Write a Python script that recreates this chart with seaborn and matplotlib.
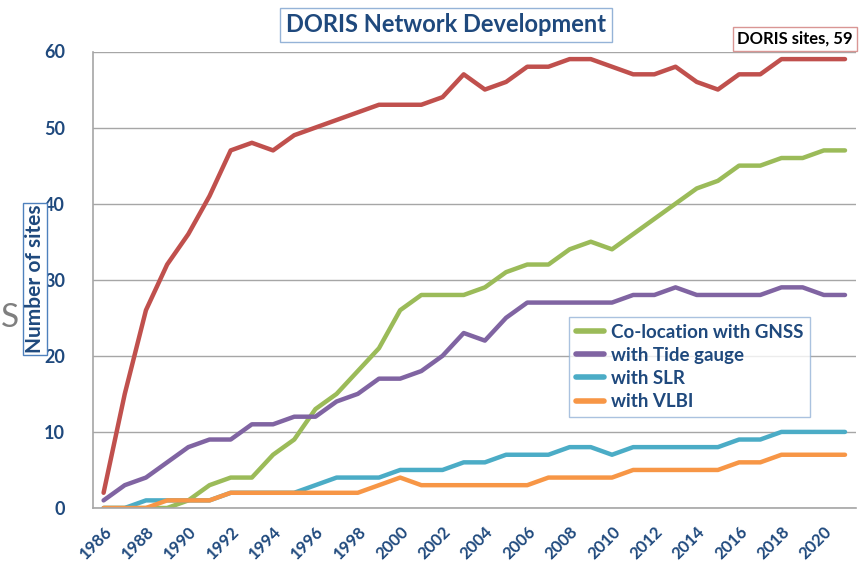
#!/usr/bin/env python3
"""
DORIS network development - number of sites per year
"""

import pandas as pd
import matplotlib
matplotlib.use("Agg")
import matplotlib.pyplot as plt
import seaborn as sns
from matplotlib.lines import Line2D

# ------------------------------------------------------------
# Data
# ------------------------------------------------------------
years = list(range(1986, 2022))

doris_sites = [2, 15, 26, 32, 36, 41, 47, 48, 47, 49,
               50, 51, 52, 53, 53, 53, 54, 57, 55, 56,
               58, 58, 59, 59, 58, 57, 57, 58, 56, 55,
               57, 57, 59, 59, 59, 59]
gnss = [0, 0, 0, 0, 1, 3, 4, 4, 7, 9,
        13, 15, 18, 21, 26, 28, 28, 28, 29, 31,
        32, 32, 34, 35, 34, 36, 38, 40, 42, 43,
        45, 45, 46, 46, 47, 47]
tide_gauge = [1, 3, 4, 6, 8, 9, 9, 11, 11, 12,
              12, 14, 15, 17, 17, 18, 20, 23, 22, 25,
              27, 27, 27, 27, 27, 28, 28, 29, 28, 28,
              28, 28, 29, 29, 28, 28]
slr = [0, 0, 1, 1, 1, 1, 2, 2, 2, 2,
       3, 4, 4, 4, 5, 5, 5, 6, 6, 7,
       7, 7, 8, 8, 7, 8, 8, 8, 8, 8,
       9, 9, 10, 10, 10, 10]
vlbi = [0, 0, 0, 1, 1, 1, 2, 2, 2, 2,
        2, 2, 2, 3, 4, 3, 3, 3, 3, 3,
        3, 4, 4, 4, 4, 5, 5, 5, 5, 5,
        6, 6, 7, 7, 7, 7]

series_names = ["DORIS sites", "Co-location with GNSS", "with Tide gauge",
                "with SLR", "with VLBI"]
series_values = [doris_sites, gnss, tide_gauge, slr, vlbi]
series_colors = ["#C0504D", "#9BBB59", "#8064A2", "#4BACC6", "#F79646"]

df = pd.concat(
    [pd.DataFrame({"year": years, "sites": v, "series": n})
     for n, v in zip(series_names, series_values)],
    ignore_index=True,
)

# ------------------------------------------------------------
# Style
# ------------------------------------------------------------
sns.set_style("white")
plt.rcParams["font.family"] = ["Lato", "DejaVu Sans"]
navy = "#1F497D"
grid_grey = "#A6A6A6"

fig = plt.figure(figsize=(8.6, 5.62), dpi=100)
ax = fig.add_axes([93 / 860, 1 - 508 / 562, (855.6 - 93) / 860, (508 - 51.5) / 562])

sns.lineplot(data=df, x="year", y="sites", hue="series", hue_order=series_names,
             palette=series_colors, linewidth=3.2, ax=ax, legend=False)

ax.set_xlim(1985.5, 2021.5)
ax.set_ylim(0, 60)
ax.set_yticks(range(0, 61, 10))
ax.set_xticks(years[::2])
ax.set_xticks([y - 0.5 for y in years] + [2021.5], minor=True)
ax.set_xticklabels([str(y) for y in years[::2]], rotation=45, ha="right",
                   rotation_mode="anchor")
ax.set_xlabel("")
ax.set_ylabel("")

ax.grid(axis="y", color=grid_grey, linewidth=1)
ax.grid(axis="x", visible=False)
ax.set_axisbelow(True)
for side in ["top", "right"]:
    ax.spines[side].set_visible(False)
for side in ["left", "bottom"]:
    ax.spines[side].set_color(grid_grey)
    ax.spines[side].set_linewidth(1.2)

ax.tick_params(axis="y", length=7, color=grid_grey, labelsize=13,
               labelcolor=navy, pad=13)
ax.tick_params(axis="x", which="major", length=0, labelsize=12,
               labelcolor=navy, pad=11)
ax.tick_params(axis="x", which="minor", length=5, color=grid_grey)
for lab in ax.get_xticklabels() + ax.get_yticklabels():
    lab.set_fontweight("bold")

# ------------------------------------------------------------
# Legend (only the co-location series)
# ------------------------------------------------------------
handles = [Line2D([], [], color=c, linewidth=4) for c in series_colors[1:]]
leg = fig.legend(handles, series_names[1:], loc="upper left",
                 bbox_to_anchor=(569 / 860, 1 - 317 / 562), frameon=True,
                 fancybox=False, edgecolor="#95B3D7", fontsize=13.5,
                 handlelength=1.5, handletextpad=0.4, labelspacing=0.33,
                 borderpad=0.35, borderaxespad=0)
leg.get_frame().set_linewidth(1)
for t in leg.get_texts():
    t.set_color(navy)
    t.set_fontweight("bold")

# ------------------------------------------------------------
# Title, axis label and annotation boxes
# ------------------------------------------------------------
fig.text(446 / 860, 1 - 25 / 562, "DORIS Network Development", ha="center",
         va="center", fontsize=17, fontweight="bold", color=navy,
         bbox=dict(boxstyle="square,pad=0.25", fc="white", ec="#95B3D7", lw=1))
fig.text(35 / 860, 1 - 279 / 562, "Number of sites", ha="center", va="center",
         rotation=90, fontsize=15, fontweight="bold", color=navy,
         bbox=dict(boxstyle="square,pad=0.08", fc="white", ec="#4F81BD", lw=1))
fig.text(795 / 860, 1 - 39 / 562, "DORIS sites, 59", ha="center", va="center",
         fontsize=12, fontweight="bold", color="black",
         bbox=dict(boxstyle="square,pad=0.25", fc="white", ec="#D99694", lw=1))
fig.text(1 / 860, 1 - 318 / 562, "S", ha="left", va="center", fontsize=24,
         color="#7F7F7F")

fig.savefig("out.png", dpi=100)
